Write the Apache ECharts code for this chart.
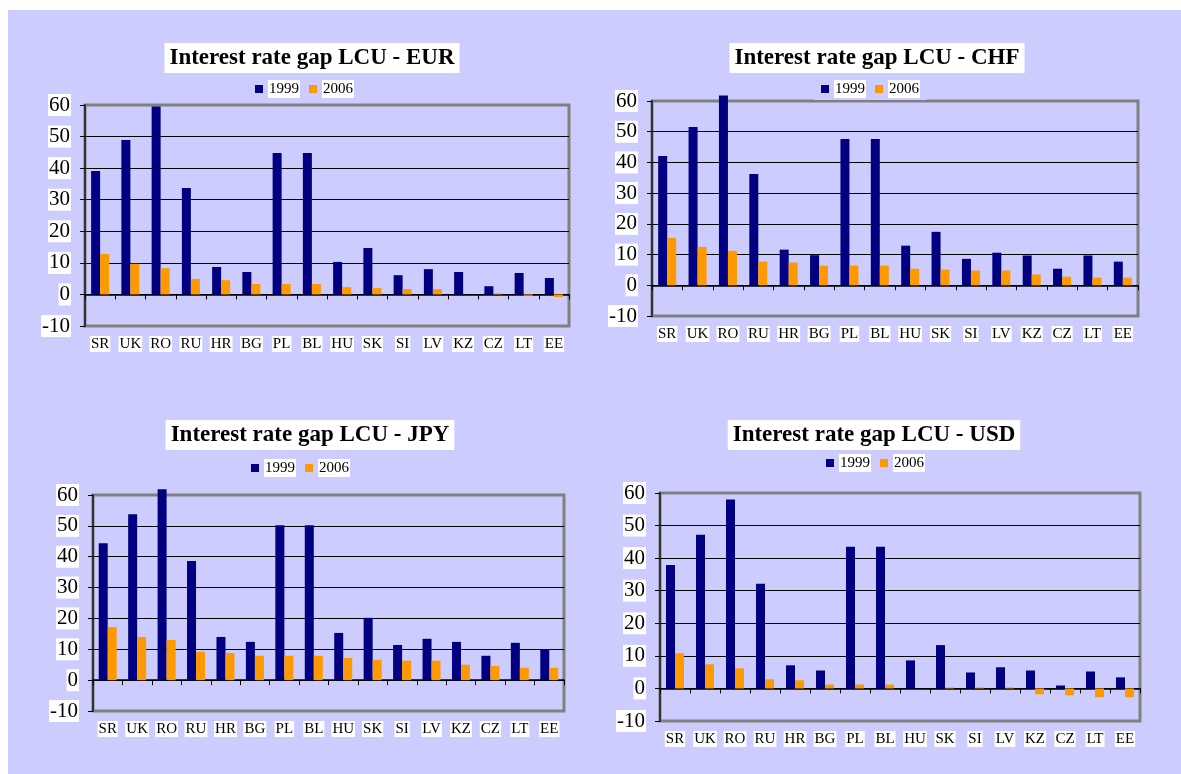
<!DOCTYPE html>
<html>
<head>
<meta charset="utf-8">
<script src="https://cdn.jsdelivr.net/npm/echarts@6/dist/echarts.min.js"></script>
<style>
html,body{margin:0;padding:0;background:#fff;}
#chart{width:1181px;height:774px;}
</style>
</head>
<body>
<div id="chart"></div>
<script>
// ---- data ----
var categories = ['SR','UK','RO','RU','HR','BG','PL','BL','HU','SK','SI','LV','KZ','CZ','LT','EE'];
var seriesNames = ['1999','2006'];
var yTicks = [-10, 0, 10, 20, 30, 40, 50, 60];
var titles = ['Interest rate gap LCU - EUR','Interest rate gap LCU - CHF','Interest rate gap LCU - JPY','Interest rate gap LCU - USD'];

var eur1999 = [39.1, 48.9, 59.5, 33.7, 8.7, 7.1, 44.8, 44.8, 10.3, 14.7, 6.1, 8.0, 7.1, 2.6, 6.8, 5.2];
var eur2006 = [12.8, 9.7, 8.3, 4.9, 4.5, 3.3, 3.3, 3.3, 2.3, 2.0, 1.7, 1.7, 0, 0.3, -0.4, -0.8];
var chf1999 = [42.1, 51.5, 61.8, 36.2, 11.6, 9.8, 47.6, 47.6, 12.9, 17.4, 8.6, 10.6, 9.7, 5.4, 9.7, 7.7];
var chf2006 = [15.5, 12.5, 11.2, 7.7, 7.4, 6.4, 6.4, 6.4, 5.4, 5.1, 4.8, 4.8, 3.5, 2.8, 2.5, 2.5];
var jpy1999 = [44.4, 53.8, 61.9, 38.6, 14.0, 12.4, 50.2, 50.2, 15.3, 20.2, 11.4, 13.4, 12.4, 7.9, 12.1, 10.1];
var jpy2006 = [17.2, 14.0, 13.0, 9.2, 8.8, 7.9, 7.9, 7.9, 7.2, 6.6, 6.3, 6.3, 5.0, 4.6, 4.0, 4.0];
var usd1999 = [37.9, 47.2, 58.0, 32.1, 7.1, 5.5, 43.5, 43.5, 8.6, 13.3, 4.9, 6.5, 5.5, 0.9, 5.2, 3.4];
var usd2006 = [10.8, 7.4, 6.2, 2.8, 2.5, 1.2, 1.2, 1.2, 0, 0.3, 0.3, 0.3, -1.8, -2.1, -2.7, -2.7];

var panelData = [[eur1999, eur2006],[chf1999, chf2006],[jpy1999, jpy2006],[usd1999, usd2006]];

// ---- layout ----
var SERIF = '"Liberation Serif","Times New Roman",serif';
var BG = '#CCCCFF';
var colors = ['#000080', '#FF9900'];
var grids = [
  {left: 85, top: 105, width: 484, height: 221},
  {left: 652, top: 101, width: 486, height: 215},
  {left: 93, top: 495, width: 471, height: 216},
  {left: 660, top: 493, width: 480, height: 228}
];
var titlePos = [{cx: 307, top: 43}, {cx: 872, top: 43}, {cx: 305, top: 420}, {cx: 869, top: 420}];
var legendPos = [{left: 255, top: 80}, {left: 814, top: 76}, {left: 251, top: 459}, {left: 826, top: 454}];

var option = {
  animation: false,
  backgroundColor: '#fff',
  graphic: [{type: 'rect', z: -100, silent: true, shape: {x: 8, y: 10, width: 1173, height: 764}, style: {fill: BG}}],
  title: [], legend: [], grid: [], xAxis: [], yAxis: [], series: []
};

for (var i = 0; i < 4; i++) {
  option.title.push({
    text: titles[i], left: titlePos[i].cx, top: titlePos[i].top, textAlign: 'center',
    backgroundColor: '#fff', padding: [2, 5],
    textStyle: {fontFamily: SERIF, fontWeight: 'bold', fontSize: 23, lineHeight: 26, color: '#000'}
  });
  option.legend.push({
    data: seriesNames, left: legendPos[i].left, top: legendPos[i].top,
    padding: i === 1 ? [4, 7, 2, 7] : 0,
    backgroundColor: i === 1 ? BG : 'transparent',
    z: 10,
    icon: 'rect', itemWidth: 8, itemHeight: 8, itemGap: 9,
    selectedMode: false,
    textStyle: {fontFamily: SERIF, fontSize: 15, lineHeight: 17, color: '#000', backgroundColor: '#fff', padding: [1, 1, 0, 1]}
  });
  option.grid.push({
    left: grids[i].left, top: grids[i].top, width: grids[i].width, height: grids[i].height,
    show: true, borderColor: '#808080', borderWidth: 3, backgroundColor: 'transparent'
  });
  // zero-line axis with ticks
  option.xAxis.push({
    type: 'category', gridIndex: i, data: categories, position: 'bottom',
    axisLine: {show: true, onZero: true, lineStyle: {color: '#000', width: 1.5}},
    axisTick: {show: true, length: 5, interval: 0, lineStyle: {color: '#000', width: 1}},
    axisLabel: {show: false}, splitLine: {show: false}
  });
  // label axis at bottom
  option.xAxis.push({
    type: 'category', gridIndex: i, data: categories, position: 'bottom',
    axisLine: {show: false, onZero: false}, axisTick: {show: false},
    axisLabel: {show: true, interval: 0, margin: 10, fontFamily: SERIF, fontSize: 15, color: '#000',
      backgroundColor: '#fff', padding: [1, 1, 0, 1]},
    splitLine: {show: false}
  });
  option.yAxis.push({
    type: 'value', gridIndex: i, min: yTicks[0], max: yTicks[yTicks.length - 1], interval: 10,
    axisLine: {show: true, lineStyle: {color: '#333', width: 2}},
    axisTick: {show: true, length: 5, lineStyle: {color: '#000'}},
    axisLabel: {margin: 14, fontFamily: SERIF, fontSize: 21, color: '#000', backgroundColor: '#fff', padding: [1, 1, 0, 1]},
    splitLine: {show: true, showMinLine: false, showMaxLine: false, lineStyle: {color: '#000', width: 1}}
  });
  for (var s = 0; s < 2; s++) {
    option.series.push({
      type: 'bar', name: seriesNames[s], xAxisIndex: 2 * i, yAxisIndex: i,
      data: panelData[i][s], barWidth: 9, barGap: '0%', clip: false,
      itemStyle: {color: colors[s]}, z: 1
    });
  }
}

var chart = echarts.init(document.getElementById('chart'), null, {renderer: 'canvas'});
chart.setOption(option);
</script>
</body>
</html>
